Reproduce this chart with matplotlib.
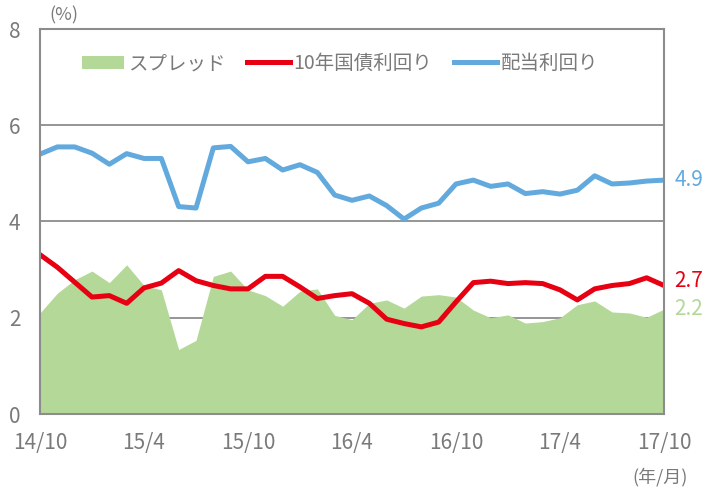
import numpy as np
import matplotlib.pyplot as plt

plt.rcParams['font.family'] = ['Noto Sans CJK JP', 'DejaVu Sans']

# monthly data 14/10 .. 17/10
dividend_yield = [5.40, 5.55, 5.55, 5.42, 5.19, 5.41, 5.31, 5.31, 4.31, 4.28,
                  5.53, 5.56, 5.24, 5.31, 5.07, 5.18, 5.02, 4.55, 4.44, 4.53,
                  4.33, 4.05, 4.28, 4.38, 4.78, 4.86, 4.73, 4.78, 4.58, 4.62,
                  4.57, 4.65, 4.95, 4.78, 4.80, 4.84, 4.86]
bond_yield = [3.31, 3.05, 2.74, 2.43, 2.46, 2.30, 2.62, 2.72, 2.98, 2.77,
              2.67, 2.60, 2.60, 2.86, 2.86, 2.64, 2.40, 2.46, 2.50, 2.30,
              1.97, 1.88, 1.81, 1.91, 2.33, 2.73, 2.76, 2.71, 2.73, 2.71,
              2.58, 2.37, 2.60, 2.67, 2.71, 2.83, 2.67]
spread = [2.10, 2.51, 2.79, 2.97, 2.73, 3.10, 2.67, 2.58, 1.34, 1.53,
          2.86, 2.97, 2.58, 2.46, 2.24, 2.55, 2.60, 2.05, 1.96, 2.30,
          2.37, 2.20, 2.45, 2.48, 2.43, 2.16, 2.00, 2.06, 1.89, 1.92,
          2.00, 2.27, 2.35, 2.12, 2.10, 2.01, 2.18]
tick_labels = ['14/10', '15/4', '15/10', '16/4', '16/10', '17/4', '17/10']
end_labels = ['4.9', '2.7', '2.2']

green = '#b4d898'
red = '#e60012'
blue = '#62aadd'
grey = '#8c8c8c'
text_grey = '#7a7a7a'

x = np.arange(len(spread))

fig = plt.figure(figsize=(7.07, 4.90), dpi=100)
ax = fig.add_axes([40/707, 76/490, 624/707, 385/490])

ax.fill_between(x, 0, spread, color=green, linewidth=0, label='スプレッド', zorder=1)
ax.plot(x, bond_yield, color=red, lw=3.6, label='10年国債利回り', zorder=3)
ax.plot(x, dividend_yield, color=blue, lw=3.6, label='配当利回り', zorder=3)

ax.set_xlim(0, 36)
ax.set_ylim(0, 8)
ax.set_yticks([0, 2, 4, 6, 8])
ax.set_xticks(range(0, 37, 6))
ax.set_xticklabels(tick_labels)
ax.yaxis.grid(True, color=grey, lw=1.3, zorder=0)
ax.set_axisbelow(True)
for s in ax.spines.values():
    s.set_color(grey)
    s.set_linewidth(1.5)
    s.set_zorder(4)
ax.tick_params(axis='x', direction='in', length=5, width=1.3, color=grey,
               labelsize=15, labelcolor=text_grey, pad=13)
ax.tick_params(axis='y', direction='in', length=0, labelsize=15,
               labelcolor=text_grey, pad=14)

# values at the right end
ax.text(36.6, dividend_yield[-1], end_labels[0], color=blue, fontsize=15, va='center')
ax.text(36.6, bond_yield[-1] + 0.1, end_labels[1], color=red, fontsize=15, va='center')
ax.text(36.6, spread[-1], end_labels[2], color=green, fontsize=15, va='center')

fig.text(64/707, 1 - 15/490, '(%)', color=text_grey, fontsize=13, ha='center', va='center')
fig.text(660/707, 1 - 477/490, '(年/月)', color=text_grey, fontsize=13, ha='center', va='center')

leg = ax.legend(loc='center left', bbox_to_anchor=(24/624, 0.91), ncol=3, frameon=False,
                fontsize=14, handlelength=2.2, columnspacing=1.1, handletextpad=0.2)
for t in leg.get_texts():
    t.set_color(text_grey)

fig.savefig('out.png', dpi=100)
